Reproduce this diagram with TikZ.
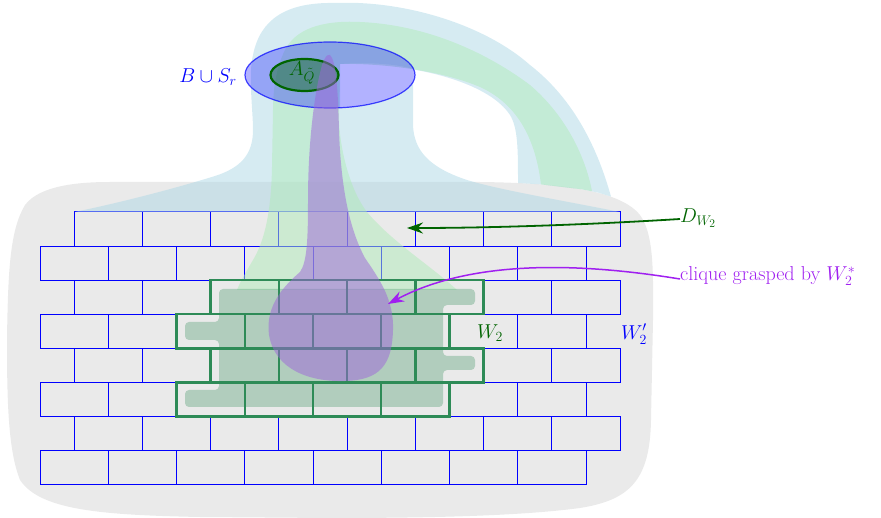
\documentclass[tikz,border=0pt]{standalone}
\usetikzlibrary{arrows.meta}
\definecolor{lb}{RGB}{173,216,230}
\definecolor{mint}{RGB}{176,234,185}
\definecolor{sgreen}{RGB}{46,139,87}
\definecolor{dgreen}{RGB}{0,100,0}
\definecolor{pur}{RGB}{158,100,218}
\definecolor{arrpur}{RGB}{160,32,240}
\definecolor{wallgray}{RGB}{234,234,234}
\newcommand\lbltext[1]{\scalebox{0.97}{#1}}
\begin{document}
\begin{tikzpicture}[x=1pt,y=-1pt,
  font=\huge,
  brick/.style={draw=blue, line width=1pt},
  wbrick/.style={draw=sgreen, line width=2.4pt},
  lbl/.style={inner sep=0pt},
  arrowtip/.style={-{Stealth[length=16pt,width=11pt]}}]
\useasboundingbox (0,0) rectangle (881,518);

% gray blob
\fill[wallgray] (110,182) -- (480,182)
  .. controls (560,183) and (620,190) .. (640,215)
  .. controls (655,235) and (653,280) .. (653,320)
  -- (651,420)
  .. controls (650,480) and (630,500) .. (580,508)
  .. controls (520,516) and (430,518) .. (330,518)
  -- (200,517)
  .. controls (100,515) and (40,510) .. (20,480)
  .. controls (8,450) and (7,400) .. (7,340)
  .. controls (8,270) and (10,230) .. (25,205)
  .. controls (40,185) and (80,182) .. (110,182) -- cycle;

% blue brick wall
\foreach \r in {0,...,7} {
  \pgfmathsetmacro\yy{212+34.1*\r}
  \pgfmathsetmacro\xo{ifthenelse(mod(\r,2)==0,74.1,40)}
  \foreach \c in {0,...,7} {
    \draw[brick] (\xo+68.25*\c,\yy) rectangle ++(68.25,34.1);
  }
}

% light blue funnel and arch
\fill[lb, fill opacity=0.5] (74,212) -- (620,212)
  .. controls (560,200) and (500,190) .. (467,180)
  .. controls (428,167) and (414,150) .. (413,125)
  -- (413,82)
  arc[start angle=12.5, end angle=83.2, x radius=85, y radius=33]
  -- (340,64)
  .. controls (370,62) and (400,64) .. (416,70)
  .. controls (455,77) and (495,92) .. (510,115)
  .. controls (518,128) and (518,150) .. (518,183)
  -- (541,184.4) -- (582,189.3) -- (598,192.6) -- (611,196.6)
  .. controls (598,150) and (575,100) .. (530,65)
  .. controls (485,25) and (405,0) .. (335,3)
  .. controls (285,2) and (260,20) .. (253,55)
  .. controls (248,75) and (253,110) .. (253,130)
  .. controls (253,155) and (240,168) .. (215,176)
  .. controls (170,190) and (110,205) .. (74,212) -- cycle;

% green tube and arch
\fill[mint, fill opacity=0.5] (237,290) -- (457,290)
  .. controls (430,265) and (392,242) .. (367,212)
  .. controls (350,190) and (340,150) .. (339,120)
  -- (340,64)
  .. controls (380,63) and (440,70) .. (480,87)
  .. controls (515,103) and (535,135) .. (541,184.4)
  -- (582,189.3) -- (592,191.2)
  .. controls (585,155) and (565,115) .. (530,85)
  .. controls (490,55) and (430,25) .. (360,22)
  .. controls (320,20) and (295,30) .. (285,50)
  .. controls (276,68) and (273,90) .. (273,110)
  -- (272,167)
  .. controls (271,220) and (262,245) .. (253,260)
  .. controls (246,272) and (240,282) .. (237,290) -- cycle;

% W2 shading
\fill[sgreen, fill opacity=0.3, rounded corners=4pt]
  (219,289) -- (475,289) -- (475,305) -- (443,305) -- (443,356)
  -- (475,356) -- (475,370) -- (443,370) -- (443,407) -- (185,407)
  -- (185,390) -- (219,390) -- (219,340) -- (185,340) -- (185,322)
  -- (219,322) -- cycle;

% W2 bricks
\foreach \r in {2,...,5} {
  \pgfmathsetmacro\yy{212+34.1*\r}
  \pgfmathsetmacro\xo{ifthenelse(mod(\r,2)==0,74.1,40)}
  \foreach \c in {2,...,5} {
    \draw[wbrick] (\xo+68.25*\c,\yy) rectangle ++(68.25,34.1);
  }
}

% ellipses
\filldraw[fill=blue, fill opacity=0.3, draw=blue, draw opacity=0.7, line width=1.2pt]
  (330,75) ellipse [x radius=85, y radius=33];
\filldraw[fill=dgreen, fill opacity=0.4, draw=dgreen, line width=2.2pt]
  (304.5,75) ellipse [x radius=34, y radius=16];

% purple drop
\fill[pur, fill opacity=0.5] (330,55)
  .. controls (336,60) and (338,90) .. (339,130)
  .. controls (341,190) and (350,230) .. (365,258)
  .. controls (380,280) and (394,300) .. (393,330)
  .. controls (392,365) and (380,380) .. (345,381)
  .. controls (310,382) and (275,370) .. (269,335)
  .. controls (265,305) and (285,285) .. (300,272)
  .. controls (307,262) and (308,240) .. (308,200)
  .. controls (308,140) and (315,90) .. (322,65)
  .. controls (325,57) and (327,54) .. (330,55) -- cycle;

% labels
\node[lbl, text=blue] (bs) at (208,77) {\lbltext{$B\cup S_r$}};
\node[lbl, text=dgreen] (aq) at (302,73) {\lbltext{$A_{\tilde Q}$}};
\node[lbl, text=dgreen, anchor=west] (dw) at (680,218) {\lbltext{$D_{W_2}$}};
\node[lbl, text=arrpur, anchor=west] (cl) at (680,276) {\lbltext{clique grasped by $W_2^*$}};
\node[lbl, text=dgreen] (w2) at (490,333) {\lbltext{$W_2$}};
\node[lbl, text=blue] (w2p) at (634,334) {\lbltext{$W_2'$}};

% arrows
\coordinate (dtip) at (407,228);
\coordinate (ctip) at (388,304);
\draw[dgreen, line width=1.8pt, arrowtip] ([yshift=-1pt]dw.west) .. controls (600,224) and (500,228) .. (dtip);
\draw[arrpur, line width=1.5pt, arrowtip] ([yshift=-3pt]cl.west) .. controls (600,266) and (480,255) .. (ctip);
\end{tikzpicture}
\end{document}
